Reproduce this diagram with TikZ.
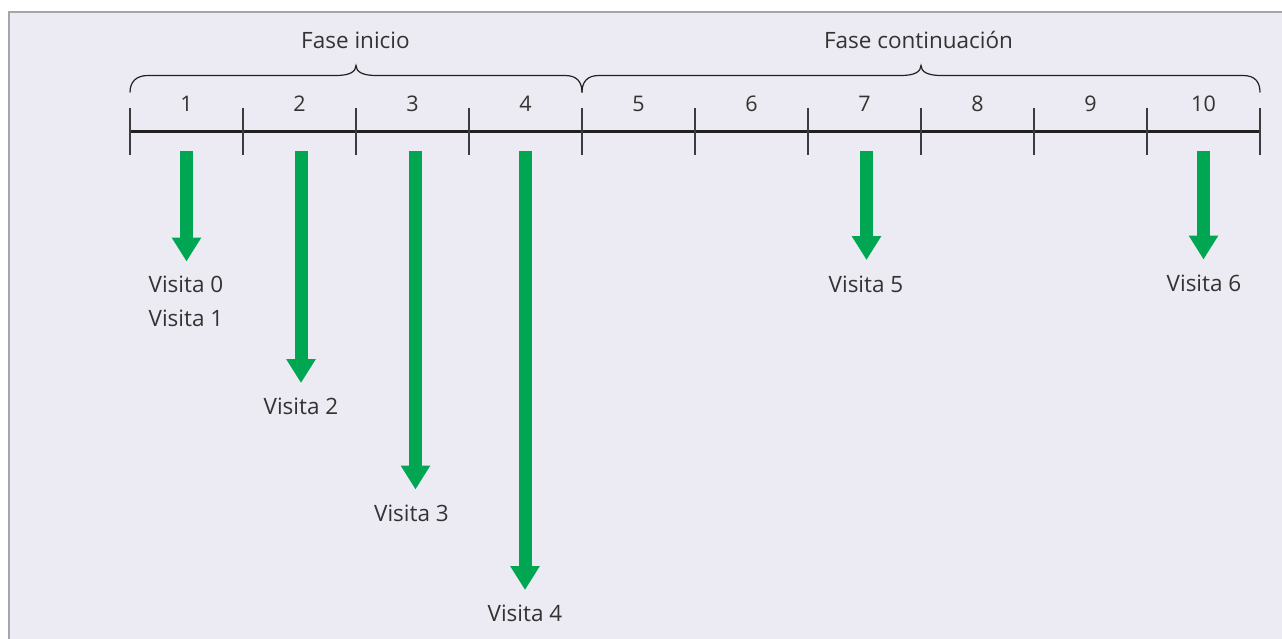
\documentclass[tikz,border=0pt]{standalone}
\usepackage{fontspec}
\setmainfont{Open Sans}
\usetikzlibrary{arrows.meta}
\definecolor{bgl}{HTML}{ECEBF3}
\definecolor{frm}{HTML}{A6A6A6}
\definecolor{grn}{HTML}{00A651}
\definecolor{txt}{HTML}{333333}
\definecolor{axc}{HTML}{231F20}
\definecolor{tkc}{HTML}{3C3C3C}
\tikzset{
  lbl/.style={font=\fontsize{22.5}{24}\selectfont, text=txt, inner sep=0pt, anchor=base},
  num/.style={font=\fontsize{21.5}{24}\selectfont, text=txt, inner sep=0pt, anchor=base},
  axisline/.style={draw=axc, line width=2.6pt},
  tickline/.style={draw=tkc, line width=1.3pt},
  brc/.style={draw=axc, line width=1.2pt},
  arr/.style={draw=grn, line width=13pt, -{Triangle[width=28pt,length=24pt]}},
}
\begin{document}
\begin{tikzpicture}[x=1pt,y=-1pt]
\useasboundingbox (0,0) rectangle (1282,639);
\fill[white] (0,0) rectangle (1282,639);
\fill[bgl] (9,12) rectangle (1282,639);
\draw[frm, line width=1.3pt] (9,639) -- (9,12) -- (1282,12);

% axis
\coordinate (a0) at (130,131.3);
\coordinate (a10) at (1260,131.3);
\draw[axisline] (a0) -- (a10);
\foreach \i in {0,...,10}{
  \coordinate (k\i) at ({130+113*\i},108);
  \coordinate (m\i) at ({130+113*\i},155);
  \draw[tickline] (k\i) -- (m\i);
}
\foreach \i in {1,...,10}{
  \node[num] (n\i) at ({130+113*\i-56.5},112) {\i};
}

% braces
\draw[brc] (130,92.5) .. controls (130,82) and (136,75.5) .. (148,75.5) -- (336,75.5)
  .. controls (349,75.5) and (356,72) .. (356,65.5)
  .. controls (356,72) and (363,75.5) .. (376,75.5) -- (565,75.5)
  .. controls (577,75.5) and (582,82) .. (582,92.5);
\draw[brc] (582,92.5) .. controls (582,82) and (587,75.5) .. (599,75.5) -- (901,75.5)
  .. controls (914,75.5) and (921,72) .. (921,65.5)
  .. controls (921,72) and (928,75.5) .. (941,75.5) -- (1243,75.5)
  .. controls (1255,75.5) and (1260,82) .. (1260,92.5);
\node[lbl] (fi) at (355.5,48.5) {Fase inicio};
\node[lbl] (fc) at (918.5,48.5) {Fase continuación};

% arrows
\coordinate (s1) at (186.5,151); \coordinate (t1) at (186.5,261.5);
\coordinate (s2) at (301,151);   \coordinate (t2) at (301,383);
\coordinate (s3) at (415.5,151); \coordinate (t3) at (415.5,489.5);
\coordinate (s4) at (525,151);   \coordinate (t4) at (525,590);
\coordinate (s7) at (866.5,151); \coordinate (t7) at (866.5,260);
\coordinate (s10) at (1203.5,151); \coordinate (t10) at (1203.5,259.5);
\foreach \i in {1,2,3,4,7,10}{ \draw[arr] (s\i) -- (t\i); }

% labels
\node[lbl] (v0) at (186,292.5) {Visita 0};
\node[lbl] (v1) at (186,326) {Visita 1};
\node[lbl] (v2) at (301,414) {Visita 2};
\node[lbl] (v3) at (411.5,521.5) {Visita 3};
\node[lbl] (v4) at (525,621.5) {Visita 4};
\node[lbl] (v5) at (866,292) {Visita 5};
\node[lbl] (v6) at (1204,291.5) {Visita 6};
\end{tikzpicture}
\end{document}
